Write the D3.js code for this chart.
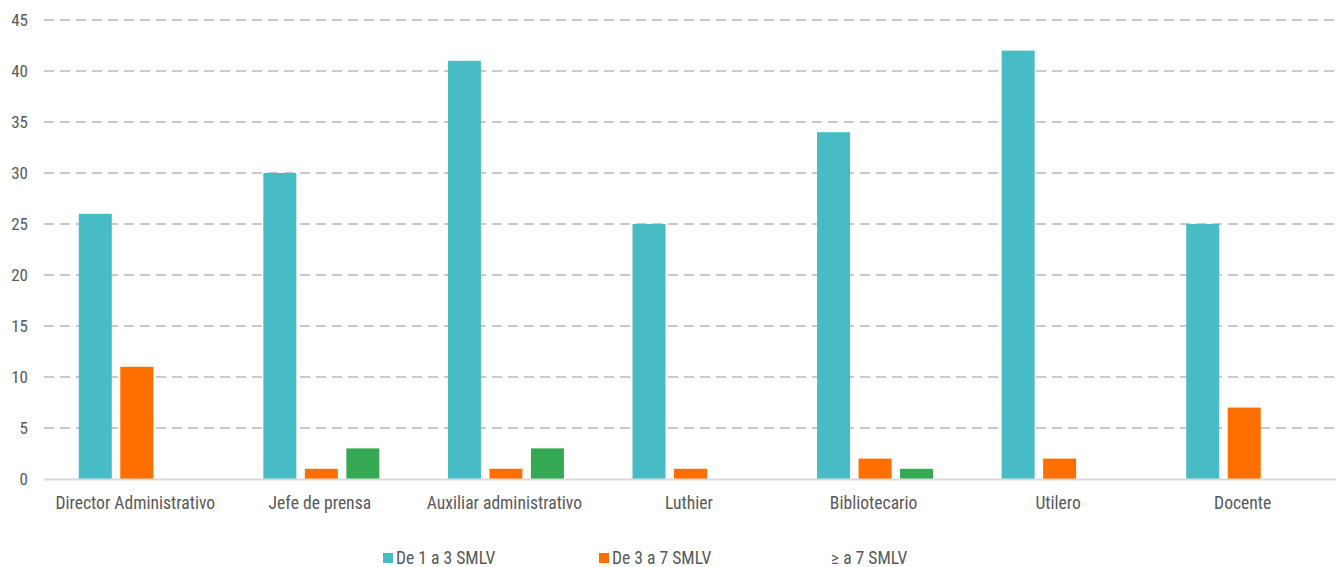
<!DOCTYPE html>
<html>
<head>
<meta charset="utf-8">
<script src="https://cdn.jsdelivr.net/npm/d3@7"></script>
<style>
  body { margin: 0; background: #fff; }
  text { font-family: "Liberation Sans Narrow", "Arial Narrow", "Roboto Condensed", sans-serif; fill: #595959; }
</style>
</head>
<body>
<svg width="1336" height="567"></svg>
<script>
const svg = d3.select('svg');

const categories = ['Director Administrativo', 'Jefe de prensa', 'Auxiliar administrativo',
  'Luthier', 'Bibliotecario', 'Utilero', 'Docente'];
const seriesNames = ['De 1 a 3 SMLV', 'De 3 a 7 SMLV', '\u2265 a 7 SMLV'];
const low = [26, 30, 41, 25, 34, 42, 25];
const mid = [11, 1, 1, 1, 2, 2, 7];
const high = [0, 3, 3, 0, 1, 0, 0];
const yTicks = [0, 5, 10, 15, 20, 25, 30, 35, 40, 45];
const colors = ['#47bcc5', '#ff6f00', '#34a853'];

const series = [low, mid, high];
const plotLeft = 44, plotRight = 1336, plotTop = 20, plotBottom = 479;
const groupWidth = 116;

const x = d3.scaleBand().domain(categories).range([plotLeft, plotRight]);
const xs = d3.scaleBand().domain([0, 1, 2]).range([0, groupWidth]).paddingInner(0.205);
const y = d3.scaleLinear().domain([0, 45]).range([plotBottom, plotTop]);

// gridlines
svg.selectAll('line.grid').data(yTicks.filter(d => d > 0))
  .enter().append('line')
    .attr('class', 'grid')
    .attr('x1', plotLeft).attr('x2', plotRight)
    .attr('y1', d => y(d)).attr('y2', d => y(d))
    .attr('stroke', '#c9c9cd')
    .attr('stroke-width', 2)
    .attr('stroke-dasharray', '10 6');

// y axis labels
svg.selectAll('text.ytick').data(yTicks)
  .enter().append('text')
    .attr('class', 'ytick')
    .attr('x', 28)
    .attr('y', d => y(d) + 6)
    .attr('text-anchor', 'end')
    .attr('font-size', '17px')
    .text(d => d);

// bars
const groupOffset = (x.bandwidth() - groupWidth) / 2 + 0.5;
series.forEach((vals, s) => {
  svg.selectAll('rect.s' + s).data(vals)
    .enter().append('rect')
      .attr('class', 's' + s)
      .attr('x', (d, i) => x(categories[i]) + groupOffset + xs(s))
      .attr('width', xs.bandwidth())
      .attr('y', d => y(d))
      .attr('height', d => plotBottom - y(d))
      .attr('fill', colors[s]);
});

// baseline
svg.append('line')
  .attr('x1', plotLeft).attr('x2', plotRight)
  .attr('y1', plotBottom + 0.5).attr('y2', plotBottom + 0.5)
  .attr('stroke', '#d9d9d9')
  .attr('stroke-width', 2);

// x labels
svg.selectAll('text.xlab').data(categories)
  .enter().append('text')
    .attr('class', 'xlab')
    .attr('x', d => x(d) + x.bandwidth() / 2 - 1)
    .attr('y', 509)
    .attr('text-anchor', 'middle')
    .attr('font-size', '17.6px')
    .text(d => d);

// legend
const legendX = [383, 599, 831];
seriesNames.forEach((name, s) => {
  if (s < 2) {
    svg.append('rect')
      .attr('x', legendX[s]).attr('y', 553)
      .attr('width', 10).attr('height', 10)
      .attr('fill', colors[s]);
  }
  svg.append('text')
    .attr('x', s < 2 ? legendX[s] + 13 : legendX[s])
    .attr('y', 564)
    .attr('font-size', '17.6px')
    .text(name);
});
</script>
</body>
</html>
